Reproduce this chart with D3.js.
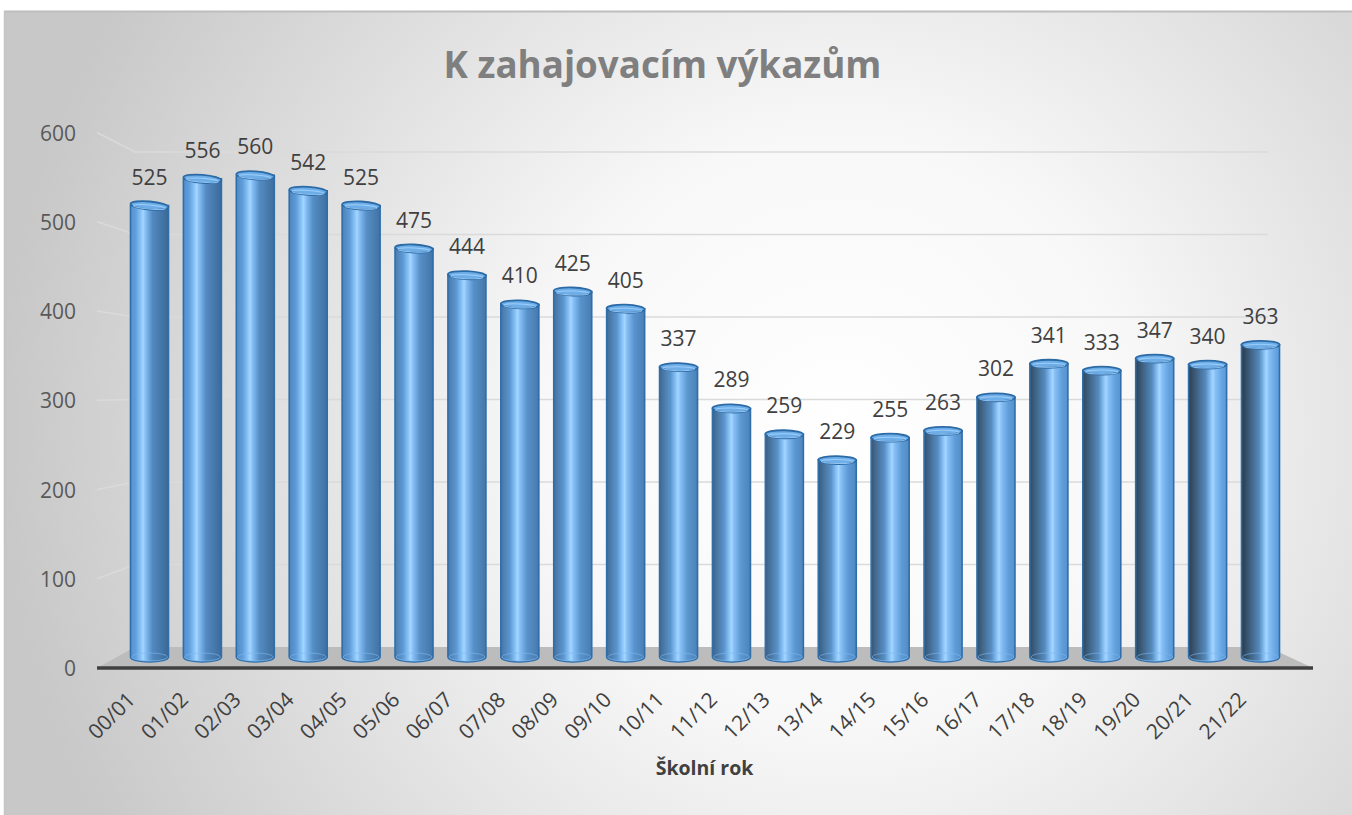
<!DOCTYPE html>
<html>
<head>
<meta charset="utf-8">
<script src="https://cdn.jsdelivr.net/npm/d3@7"></script>
<style>
  html, body { margin: 0; padding: 0; background: #ffffff; }
  svg { display: block; }
  text { font-family: "Open Sans", "Noto Sans", sans-serif; }
</style>
</head>
<body>
<svg id="chart" width="1352" height="815"></svg>
<script>
// ---- data ----
const categories = ["00/01","01/02","02/03","03/04","04/05","05/06","06/07","07/08","08/09","09/10","10/11",
                    "11/12","12/13","13/14","14/15","15/16","16/17","17/18","18/19","19/20","20/21","21/22"];
const values = [525,556,560,542,525,475,444,410,425,405,337,289,259,229,255,263,302,341,333,347,340,363];
const yTicks = [0,100,200,300,400,500,600];
const titleText = "K zahajovacím výkazům";
const xAxisTitle = "Školní rok";

// ---- layout ----
const W = 1352, H = 815;
const svg = d3.select("#chart");
const defs = svg.append("defs");

// background radial gradient
const bg = defs.append("radialGradient").attr("id","bg")
  .attr("gradientUnits","userSpaceOnUse")
  .attr("cx", 840).attr("cy", 430).attr("r", 840)
  .attr("fx", 840).attr("fy", 430);
bg.append("stop").attr("offset","0%").attr("stop-color","#ffffff");
bg.append("stop").attr("offset","35%").attr("stop-color","#f8f8f8");
bg.append("stop").attr("offset","100%").attr("stop-color","#c8c8c8");

svg.append("rect").attr("x",4).attr("y",11).attr("width",W-4).attr("height",H-11)
  .attr("fill","url(#bg)");
svg.append("line").attr("x1",4).attr("x2",W).attr("y1",11.5).attr("y2",11.5)
  .attr("stroke","#bdbdbd").attr("stroke-width",2);
svg.append("line").attr("x1",4.5).attr("x2",4.5).attr("y1",11).attr("y2",H)
  .attr("stroke","#c4c4c4").attr("stroke-width",1.5);

// scales: front plane (labels), back wall (gridlines), middle plane (bars)
const yFront = d3.scaleLinear().domain([0,600]).range([668, 132.5]);
const yBack  = d3.scaleLinear().domain([0,600]).range([647, 152]);
const yBar   = d3.scaleLinear().domain([0,600]).range([657, 141]);
const x = d3.scalePoint().domain(categories).range([149.5, 1260.5]);
const barW = 38, rx = barW/2, ry = 4;

const frontLeft = 97, backLeft = 135, backRight = 1268, frontRight = 1313;

// gridlines (back wall with slanted left side wall)
const grid = svg.append("g");
yTicks.filter(v => v > 0).forEach(v => {
  grid.append("path")
    .attr("d", `M${frontLeft},${yFront(v)} L${backLeft},${yBack(v)} L${backRight},${yBack(v)}`)
    .attr("fill","none").attr("stroke","#dadada").attr("stroke-width",1.5);
});

// floor
svg.append("path")
  .attr("d", `M${frontLeft},${yFront(0)} L${backLeft},${yBack(0)} L${backRight},${yBack(0)} L${frontRight},${yFront(0)} Z`)
  .attr("fill","#bcbcbc");
svg.append("line").attr("x1",frontLeft).attr("x2",frontRight)
  .attr("y1",yFront(0)).attr("y2",yFront(0))
  .attr("stroke","#404040").attr("stroke-width",3.5);

// y axis labels
svg.append("g").selectAll("text").data(yTicks).join("text")
  .attr("x", 76).attr("y", d => yFront(d))
  .attr("text-anchor","end").attr("dominant-baseline","central")
  .attr("font-size", 21).attr("fill","#595959")
  .text(d => d);

// bars
const n = categories.length;
const leftEdgeI = d3.interpolateRgb("#5592d0", "#2a3a48");
const rightEdgeI = d3.interpolateRgb("#3a6896", "#5d9cd9");
categories.forEach((c, i) => {
  const t = i/(n-1);
  const g = defs.append("linearGradient").attr("id","bar"+i)
    .attr("x1","0%").attr("x2","100%").attr("y1","0%").attr("y2","0%");
  const hp = 0.33 + 0.33*t;
  const stops = [
    [0, leftEdgeI(t)],
    [Math.max(0.05, hp-0.2), d3.interpolateRgb(leftEdgeI(t), "#62a2e0")(0.75)],
    [hp-0.05, "#8cc6fa"],
    [hp, "#a6d6ff"],
    [hp+0.06, "#86c0f6"],
    [Math.min(0.95, hp+0.25), d3.interpolateRgb("#6aaae8", rightEdgeI(t))(0.5)],
    [1, rightEdgeI(t)]
  ];
  stops.forEach(s => g.append("stop").attr("offset", (s[0]*100)+"%").attr("stop-color", s[1]));
});

const barsG = svg.append("g");
values.forEach((v, i) => {
  const cx = x(categories[i]);
  const top = yBar(v), base = yBar(0);
  const l = cx - rx, r = cx + rx;
  const t = i/(n-1);
  const g = barsG.append("g");
  // body
  g.append("path")
    .attr("d", `M${l},${top} L${l},${base} A${rx},${ry+1} 0 0 0 ${r},${base} L${r},${top} Z`)
    .attr("fill", `url(#bar${i})`).attr("stroke","#2f6eab").attr("stroke-width",1.6);
  // faint base ellipse (translucency)
  g.append("path")
    .attr("d", `M${l+1},${base} A${rx-1},${ry} 0 0 1 ${r-1},${base}`)
    .attr("fill","none").attr("stroke","#7fb8ee").attr("stroke-width",1).attr("opacity",0.6);
  g.append("path")
    .attr("d", `M${l+1},${base} A${rx-1},${ry} 0 0 0 ${r-1},${base}`)
    .attr("fill","none").attr("stroke","#8ec4f3").attr("stroke-width",1).attr("opacity",0.6);
  // top cap
  const ang = 5*Math.pow(1-t, 2);
  g.append("ellipse")
    .attr("cx", cx).attr("cy", top).attr("rx", rx).attr("ry", ry)
    .attr("transform", `rotate(${ang},${cx},${top})`)
    .attr("fill", "#6eaee8").attr("stroke","#2c6aa6").attr("stroke-width",1.8);
  g.append("ellipse")
    .attr("cx", cx).attr("cy", top+1.5).attr("rx", rx-3).attr("ry", ry-2)
    .attr("transform", `rotate(${ang},${cx},${top})`)
    .attr("fill", "none").attr("stroke","#a9d6ff").attr("stroke-width",1).attr("opacity",0.8);
});

// value labels
svg.append("g").selectAll("text").data(values).join("text")
  .attr("x", (d,i) => x(categories[i]))
  .attr("y", d => yBar(d) - 21)
  .attr("text-anchor","middle")
  .attr("font-size", 21).attr("fill","#404040")
  .text(d => d);

// x axis labels (rotated -45)
svg.append("g").selectAll("text").data(categories).join("text")
  .attr("transform", d => `translate(${x(d)-13},${701}) rotate(-45)`)
  .attr("text-anchor","end")
  .attr("font-size", 21).attr("fill","#404040")
  .text(d => d);

// axis title
svg.append("text").attr("x", 704.5).attr("y", 775)
  .attr("text-anchor","middle").attr("font-size", 19.5).attr("font-weight","bold")
  .attr("fill","#404040").text(xAxisTitle);

// chart title
const title = svg.append("text").attr("x", 662.5).attr("y", 78)
  .attr("text-anchor","middle").attr("font-size", 40).attr("font-weight","bold")
  .attr("fill","#7f7f7f").text(titleText);
const tw = title.node().getComputedTextLength();
title.attr("font-size", 40 * 438 / tw);
</script>
</body>
</html>
